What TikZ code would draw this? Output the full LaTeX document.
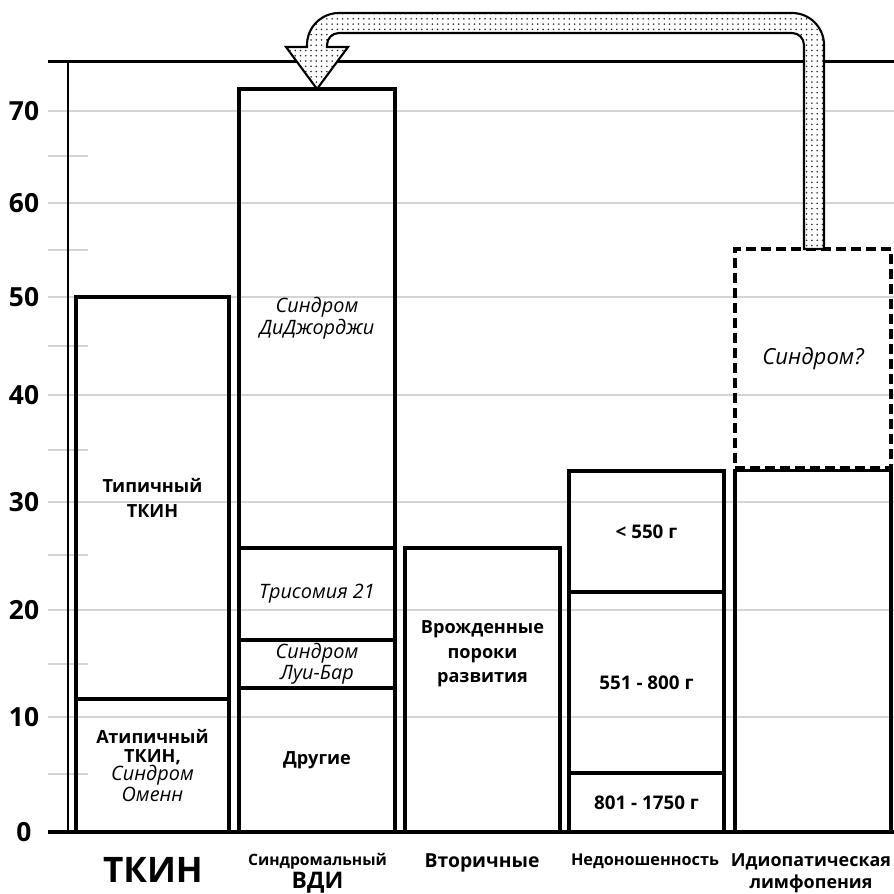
\documentclass[tikz,border=0pt]{standalone}
\usepackage{fontspec}
\setmainfont{Open Sans}
\usetikzlibrary{patterns}

\tikzset{
  bar/.style={rectangle, draw, line width=2.2pt, outer sep=0pt, inner sep=0pt, anchor=south west},
  guessbox/.style={bar, dash pattern=on 0.2cm off 0.1cm},
  gridline/.style={black!17, line width=1.1pt},
  axisline/.style={black, line width=1.7pt},
  inlbl/.style={align=center, inner sep=0pt, font=\bfseries\fontsize{10.3}{14}\selectfont},
  numlbl/.style={inlbl, font=\bfseries\fontsize{10.7}{14}\selectfont},
  itlbl/.style={align=center, inner sep=0pt, font=\itshape\fontsize{11.3}{11}\selectfont},
  collbl/.style={align=center, inner sep=0pt, anchor=north, font=\bfseries\fontsize{10.2}{12.5}\selectfont},
  axislbl/.style={inner sep=0pt, font=\bfseries\fontsize{15}{16}\selectfont},
  loopband/.style={draw, line width=1.2pt, pattern=dots, pattern color=black!85, preaction={fill=white}}
}

\begin{document}
\begin{tikzpicture}
\useasboundingbox (0,0) rectangle (17.88,17.88);

% grid
\foreach \gy in {3.54,5.68,7.84,9.98,11.94,13.82,15.66}
  \draw [gridline] (0.96,\gy) -- (17.88,\gy);
\foreach \gy in {2.40,4.60,6.78,8.88,10.96,12.88,14.76}
  \draw [gridline] (0.96,\gy) -- (1.76,\gy);
\foreach \gy/\gv in {1.24/0,3.54/10,5.68/20,7.84/30,9.98/40,11.94/50,13.82/60,15.66/70}
  \draw (0.48,\gy) node (n\gv) [axislbl] {\gv};

% axes
\draw [axisline] (0.96,16.64) -- (17.88,16.64);
\draw [axisline] (1.36,16.64) -- (1.36,1.24);
\draw [axisline, line width=2.6pt] (0.96,1.24) -- (17.88,1.24);

% TKIN
\draw (1.52,1.24) node (t1) [bar, minimum width=3.06cm, minimum height=2.66cm] {};
\draw (t1) node [inlbl, font=\bfseries\fontsize{10.3}{10.8}\selectfont] {Атипичный\\ТКИН,\\\textit{\mdseries\fontsize{11.3}{10.8}\selectfont Синдром}\\\textit{\mdseries\fontsize{11.3}{10.8}\selectfont Оменн}};
\draw (t1.north west) node (t2) [bar, minimum width=3.06cm, minimum height=8.04cm] {};
\draw (t2) node [inlbl] {Типичный\\ТКИН};

% syndromic
\draw (4.78,1.24) node (s1) [bar, minimum width=3.12cm, minimum height=2.88cm] {};
\draw (s1) node [inlbl] {Другие};
\draw (s1.north west) node (s2) [bar, minimum width=3.12cm, minimum height=0.96cm] {};
\draw (s2) node [itlbl, font=\itshape\fontsize{11.3}{9.6}\selectfont] {Синдром\\Луи-Бар};
\draw (s2.north west) node (s3) [bar, minimum width=3.12cm, minimum height=1.84cm] {};
\draw (s3) node [itlbl] {Трисомия 21};
\draw (s3.north west) node (s4) [bar, minimum width=3.12cm, minimum height=9.18cm] {};
\draw (s4) node [itlbl] {Синдром\\ДиДжорджи};

% secondary
\draw (8.10,1.24) node (v1) [bar, minimum width=3.10cm, minimum height=5.68cm] {};
\draw (v1) ++(0,0.72) node [inlbl] {Врожденные\\пороки\\развития};

% prematurity
\draw (11.38,1.24) node (p1) [bar, minimum width=3.10cm, minimum height=1.18cm] {};
\draw (p1) node [numlbl] {801 - 1750 г};
\draw (p1.north west) node (p2) [bar, minimum width=3.10cm, minimum height=3.62cm] {};
\draw (p2) node [numlbl] {551 - 800 г};
\draw (p2.north west) node (p3) [bar, minimum width=3.10cm, minimum height=2.42cm] {};
\draw (p3) node [numlbl] {< 550 г};

% idiopathic
\draw (14.70,1.24) node (i1) [bar, minimum width=3.12cm, minimum height=7.23cm] {};
\draw (14.70,8.52) node (q) [guessbox, minimum width=3.12cm, minimum height=4.38cm] {};
\draw (q) node [itlbl, font=\itshape\fontsize{12.6}{13}\selectfont] {Синдром?};

% arrow back to syndromic
\draw [loopband] (16.08,12.90) -- (16.08,16.98) arc[start angle=0, end angle=90, radius=0.24]
  -- (6.78,17.22) arc[start angle=90, end angle=180, radius=0.24]
  -- (6.54,16.94) -- (6.96,16.94) -- (s4.north) -- (5.72,16.94) -- (6.14,16.94)
  -- (6.14,16.98) arc[start angle=180, end angle=90, radius=0.64]
  -- (15.84,17.62) arc[start angle=90, end angle=0, radius=0.64] -- (16.48,12.90) -- cycle;

% column labels
\draw (3.06,0.49) node (c1) [inner sep=0pt, font=\bfseries\fontsize{20}{22}\selectfont] {ТКИН};
\draw (6.35,0.82) node (c2) [collbl, font=\bfseries\fontsize{8.9}{13.2}\selectfont] {Синдромальный\\{\fontsize{13}{13.2}\selectfont ВДИ}};
\draw (9.64,0.82) node (c3) [collbl, font=\bfseries\fontsize{11}{15}\selectfont] {Вторичные};
\draw (12.90,0.80) node (c4) [collbl, font=\bfseries\fontsize{9.25}{13}\selectfont] {Недоношенность};
\draw (16.22,0.82) node (c5) [collbl] {Идиопатическая\\лимфопения};

\end{tikzpicture}
\end{document}
